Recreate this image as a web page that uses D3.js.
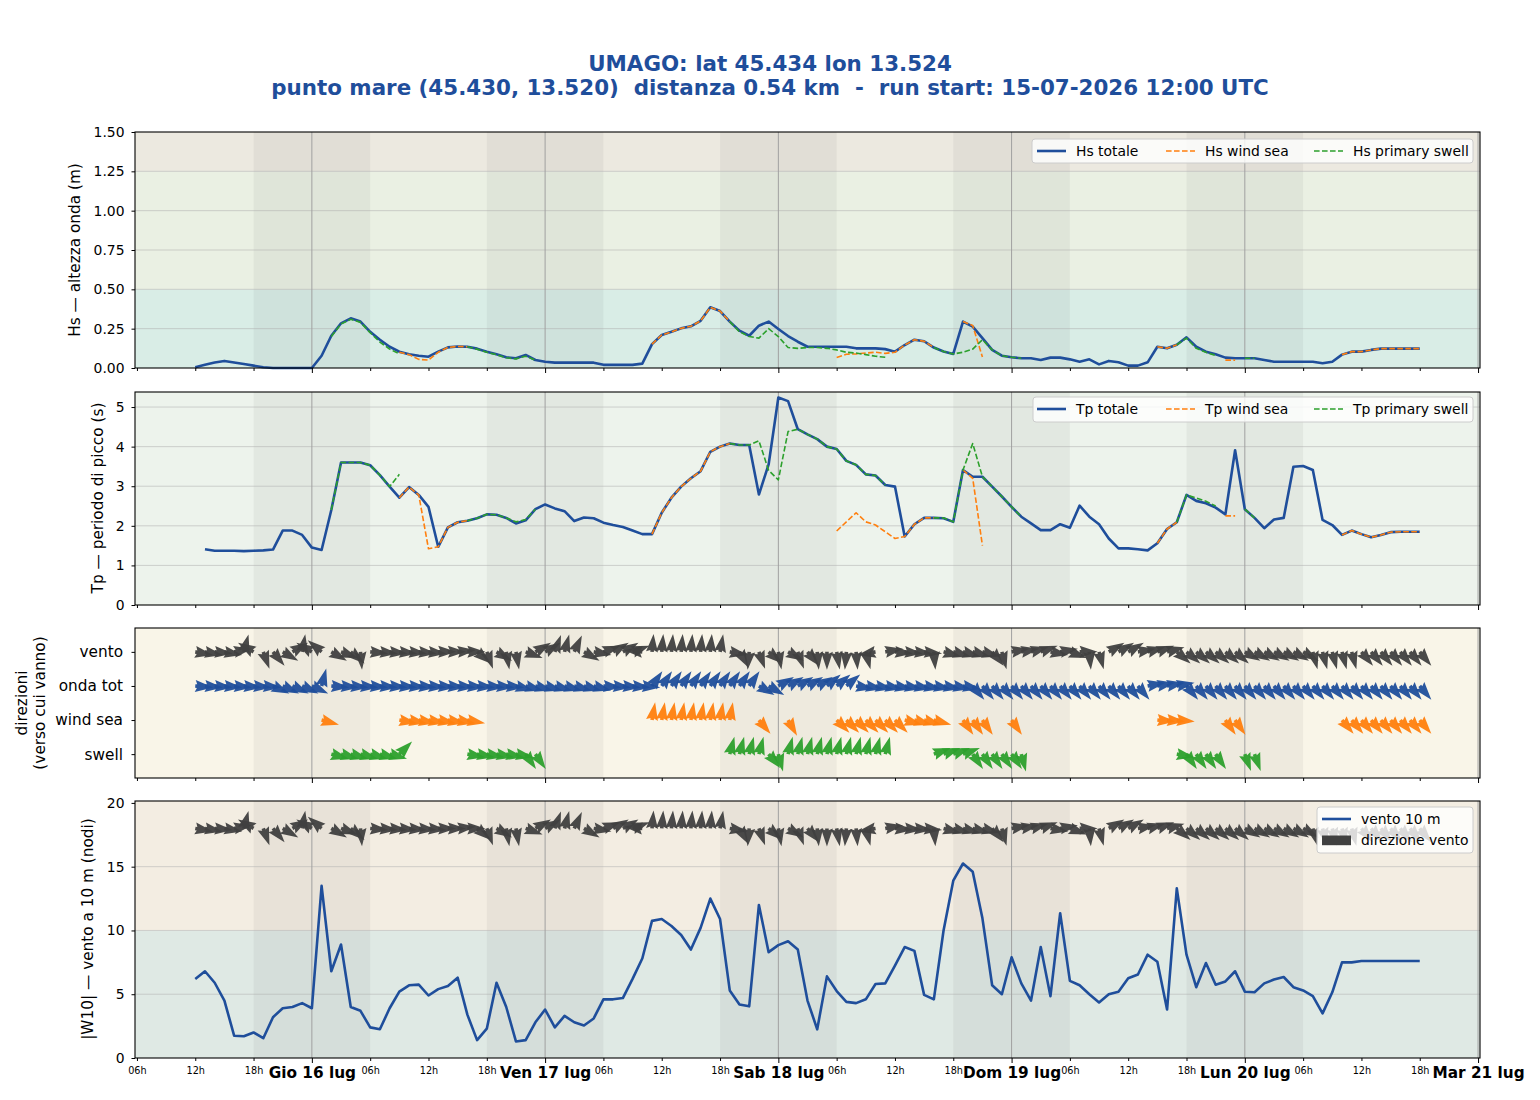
<!DOCTYPE html>
<html>
<head>
<meta charset="utf-8">
<script src="https://cdn.jsdelivr.net/npm/d3@7"></script>
<style>
  body { margin: 0; background: #fff; }
  svg { display: block; font-family: "DejaVu Sans", sans-serif; }
  text { white-space: pre; }
</style>
</head>
<body>
<div id="chart"></div>
<script>
const _ = null;

// hourly steps, 15 lug 12h -> 20 lug 18h
const runStart = Date.UTC(2026, 6, 15, 12);
const nSteps = 127;

const dayLabels = ["Gio 16 lug", "Ven 17 lug", "Sab 18 lug", "Dom 19 lug", "Lun 20 lug", "Mar 21 lug"];
const dirLabels = ["swell", "wind sea", "onda tot", "vento"];

const hsTot = [
  0.005,0.02,0.035,0.045,0.035,0.025,0.015,0.005,0,0,
  0,0,0,0.078,0.205,0.284,0.316,0.295,0.23,0.18,
  0.135,0.104,0.087,0.078,0.072,0.104,0.131,0.137,0.135,0.123,
  0.104,0.087,0.068,0.062,0.083,0.051,0.04,0.034,0.034,0.034,
  0.034,0.034,0.02,0.02,0.02,0.02,0.028,0.152,0.21,0.23,
  0.252,0.265,0.3,0.386,0.362,0.295,0.237,0.205,0.269,0.295,
  0.248,0.203,0.167,0.135,0.135,0.135,0.135,0.135,0.125,0.125,
  0.125,0.12,0.104,0.146,0.18,0.17,0.13,0.105,0.089,0.295,
  0.263,0.19,0.115,0.078,0.068,0.062,0.062,0.051,0.066,0.066,
  0.055,0.04,0.055,0.023,0.045,0.036,0.015,0.015,0.036,0.135,
  0.125,0.148,0.195,0.135,0.104,0.087,0.066,0.062,0.062,0.062,
  0.051,0.04,0.04,0.04,0.04,0.04,0.03,0.04,0.085,0.104,
  0.104,0.115,0.123,0.123,0.123,0.123,0.123];
const hsWind = [
  _,_,_,_,_,_,_,_,_,_,
  _,_,_,0.078,_,_,_,_,_,_,
  _,0.1,0.085,0.055,0.05,0.1,0.131,0.137,0.135,_,
  _,_,_,_,_,_,_,_,_,_,
  _,_,_,_,_,_,_,0.152,0.21,0.23,
  0.252,0.265,0.3,0.386,0.362,0.295,_,_,0.269,_,
  _,0.203,_,_,_,_,0.066,0.087,0.09,0.095,
  0.1,0.093,0.1,0.146,0.18,0.17,0.13,_,_,0.295,
  0.27,0.07,_,_,0.068,_,_,_,_,_,
  _,_,_,_,_,_,_,_,_,0.135,
  0.125,0.148,_,_,_,_,0.05,0.05,_,_,
  _,_,_,_,_,_,_,_,0.085,0.104,
  0.104,0.115,0.123,0.123,0.123,0.123,0.123];
const hsSwell = [
  _,_,_,_,_,_,_,_,_,_,
  _,_,_,_,0.2,0.28,0.31,0.29,0.225,0.165,
  0.12,0.09,_,_,_,_,_,_,0.135,0.12,
  0.1,0.085,0.065,0.058,0.075,0.05,_,_,_,_,
  _,_,_,_,_,_,_,_,_,_,
  _,_,_,_,_,0.295,0.23,0.2,0.19,0.25,
  0.2,0.13,0.125,0.13,0.13,0.125,0.115,0.1,0.095,0.085,
  0.075,0.068,_,_,_,_,0.13,0.105,0.089,0.1,
  0.12,0.18,0.115,0.078,0.068,0.062,_,_,_,_,
  _,_,_,_,_,_,_,_,_,_,
  _,0.148,0.19,0.125,0.1,0.08,_,_,0.062,0.062,
  _,_,_,_,_,_,_,_,_,_,
  _,_,_,_,_,_,_];

const tpTot = [
  _,1.41,1.37,1.37,1.37,1.36,1.37,1.38,1.40,1.88,
  1.88,1.77,1.45,1.39,2.4,3.6,3.6,3.6,3.53,3.28,
  2.99,2.71,2.98,2.78,2.48,1.47,1.96,2.09,2.13,2.19,
  2.29,2.28,2.2,2.06,2.14,2.42,2.54,2.44,2.37,2.12,
  2.21,2.19,2.08,2.02,1.97,1.88,1.79,1.79,2.33,2.71,
  2.99,3.2,3.38,3.87,4.0,4.08,4.04,4.04,2.79,3.55,
  5.24,5.15,4.44,4.31,4.19,4.0,3.94,3.64,3.54,3.3,
  3.27,3.03,2.99,1.73,2.04,2.2,2.2,2.19,2.1,3.41,
  3.24,3.24,2.99,2.74,2.48,2.23,2.06,1.89,1.89,2.04,
  1.95,2.51,2.23,2.04,1.68,1.43,1.43,1.41,1.38,1.56,
  1.92,2.09,2.78,2.63,2.57,2.46,2.29,3.91,2.42,2.2,
  1.94,2.16,2.2,3.49,3.51,3.41,2.15,2.02,1.77,1.88,
  1.79,1.71,1.77,1.84,1.85,1.85,1.85];
const tpWind = [
  _,_,_,_,_,_,_,_,_,_,
  _,_,_,1.39,_,_,_,_,_,_,
  _,2.71,2.98,2.78,1.42,1.47,1.96,2.09,2.13,_,
  _,_,_,_,_,_,_,_,_,_,
  _,_,_,_,_,_,_,1.79,2.33,2.71,
  2.99,3.2,3.38,3.87,4.0,4.08,_,_,2.79,_,
  _,5.15,_,_,_,_,1.87,2.1,2.33,2.1,
  2.02,1.85,1.68,1.73,2.04,2.2,2.2,_,_,3.41,
  3.2,1.5,_,_,2.48,_,_,_,_,_,
  _,_,_,_,_,_,_,_,_,1.56,
  1.92,2.09,_,_,_,_,2.25,2.25,_,_,
  _,_,_,_,_,_,_,_,1.77,1.88,
  1.79,1.71,1.77,1.84,1.85,1.85,1.85];
const tpSwell = [
  _,_,_,_,_,_,_,_,_,_,
  _,_,_,_,2.4,3.6,3.6,3.6,3.53,3.28,
  2.99,3.3,_,_,_,_,_,_,2.13,2.19,
  2.29,2.28,2.2,2.1,2.16,2.42,_,_,_,_,
  _,_,_,_,_,_,_,_,_,_,
  _,_,_,_,_,4.08,4.04,4.04,4.15,3.4,
  3.16,4.38,4.44,4.31,4.19,4.0,3.94,3.64,3.54,3.3,
  3.27,3.03,_,_,_,_,2.2,2.2,2.1,3.41,
  4.08,3.24,2.99,2.74,2.48,2.23,_,_,_,_,
  _,_,_,_,_,_,_,_,_,_,
  _,2.09,2.78,2.7,2.62,2.5,_,_,2.42,2.2,
  _,_,_,_,_,_,_,_,_,_,
  _,_,_,_,_,_,_];

// wind speed at 10 m, knots
const w10 = [
  6.2,6.8,5.9,4.5,1.75,1.7,2.0,1.55,3.2,3.9,
  4.0,4.3,3.9,13.5,6.8,8.9,4.0,3.7,2.4,2.25,
  3.9,5.2,5.7,5.75,4.9,5.4,5.65,6.3,3.4,1.4,
  2.3,5.9,4.0,1.3,1.4,2.8,3.8,2.4,3.3,2.8,
  2.55,3.1,4.6,4.6,4.7,6.2,7.8,10.75,10.9,10.35,
  9.65,8.5,10.2,12.5,10.9,5.3,4.2,4.05,12.0,8.3,
  8.85,9.15,8.5,4.5,2.25,6.4,5.25,4.4,4.3,4.6,
  5.8,5.85,7.25,8.7,8.4,4.95,4.6,10.0,13.9,15.25,
  14.6,10.95,5.7,5.0,7.9,5.85,4.5,8.7,4.85,11.35,
  6.05,5.7,5.0,4.35,5.0,5.2,6.25,6.55,8.1,7.55,
  3.8,13.3,8.1,5.55,7.45,5.75,6.0,6.8,5.2,5.15,
  5.85,6.15,6.35,5.55,5.3,4.85,3.5,5.15,7.5,7.5,
  7.6,7.6,7.6,7.6,7.6,7.6,7.6];

// directions "verso cui vanno", degrees clockwise from north
const dirVento = [
  100,100,95,100,80,15,300,160,140,120,
  60,10,300,310,120,110,130,175,95,95,
  95,95,95,95,95,90,90,85,90,130,
  160,120,170,170,110,60,60,20,15,25,
  120,100,70,60,60,70,275,5,5,5,
  5,5,5,5,10,100,150,185,160,130,
  170,120,160,140,175,180,170,185,175,165,
  260,80,95,95,95,95,175,105,105,105,
  105,105,140,165,80,80,75,70,100,80,
  110,90,175,165,60,60,60,80,75,70,
  75,130,130,130,130,130,130,130,120,120,
  120,120,120,120,120,165,165,165,165,165,
  140,140,140,140,140,140,140];
const dirOnda = [
  95,95,95,95,95,95,95,95,115,115,
  115,115,115,15,95,95,95,95,95,95,
  95,95,95,95,95,95,95,95,95,95,
  95,95,95,105,105,105,105,105,105,105,
  105,105,95,95,95,95,95,35,35,35,
  35,35,35,35,35,35,35,35,120,120,
  60,60,60,60,60,50,50,50,100,100,
  100,100,100,100,100,100,100,100,100,100,
  140,140,140,140,140,140,140,140,140,140,
  140,140,140,140,140,140,140,140,80,80,
  80,80,140,140,140,140,140,140,140,140,
  140,140,140,140,140,140,140,140,140,140,
  140,140,140,140,140,140,140];
const dirWindSea = [
  _,_,_,_,_,_,_,_,_,_,
  _,_,_,105,_,_,_,_,_,_,
  _,100,100,100,100,100,100,100,100,_,
  _,_,_,_,_,_,_,_,_,_,
  _,_,_,_,_,_,_,10,10,10,
  10,10,10,10,10,10,_,_,140,_,
  _,150,_,_,_,_,135,135,135,135,
  135,135,135,105,105,105,105,_,_,145,
  145,145,_,_,145,_,_,_,_,_,
  _,_,_,_,_,_,_,_,_,95,
  95,95,_,_,_,_,145,145,_,_,
  _,_,_,_,_,_,_,_,140,140,
  140,140,140,140,140,140,140];
const dirSwell = [
  _,_,_,_,_,_,_,_,_,_,
  _,_,_,_,105,105,105,105,105,105,
  105,45,_,_,_,_,_,_,100,100,
  100,100,100,100,145,145,_,_,_,_,
  _,_,_,_,_,_,_,_,_,_,
  _,_,_,_,_,15,15,15,15,140,
  165,15,15,15,15,15,15,15,15,15,
  15,15,_,_,_,_,70,70,70,70,
  145,145,145,145,145,165,_,_,_,_,
  _,_,_,_,_,_,_,_,_,_,
  _,100,145,145,145,145,_,_,160,160,
  _,_,_,_,_,_,_,_,_,_,
  _,_,_,_,_,_,_];

const BLUE = "#1f4e9b", ORANGE = "#ff7f0e", GREEN = "#2ca02c", DARK = "#404040";
const FONT = "DejaVu Sans";

const times = d3.range(nSteps).map(i => new Date(runStart + i * 3600e3));

const W = 1540, H = 1100;
const left = 135, right = 1480;

const x = d3.scaleUtc()
  .domain([new Date(Date.UTC(2026, 6, 15, 5, 48)), new Date(Date.UTC(2026, 6, 21, 0, 12))])
  .range([left, right]);

const yHs = d3.scaleLinear().domain([0, 1.5]).range([368, 132]);
const yTp = d3.scaleLinear().domain([0, 5.38]).range([605, 392]);
const yDir = d3.scaleLinear().domain([-0.7, 3.7]).range([778, 628]);
const yW = d3.scaleLinear().domain([0, 20.15]).range([1058, 801]);

const svg = d3.select("#chart").append("svg")
  .attr("width", W).attr("height", H)
  .attr("font-family", FONT);

// title
svg.append("text").attr("x", 770).attr("y", 71).attr("text-anchor", "middle")
  .attr("font-size", 21.4).attr("font-weight", "bold").attr("fill", BLUE)
  .text("UMAGO: lat 45.434 lon 13.524");
svg.append("text").attr("x", 770).attr("y", 95).attr("text-anchor", "middle")
  .attr("font-size", 21.4).attr("font-weight", "bold").attr("fill", BLUE)
  .text("punto mare (45.430, 13.520)  distanza 0.54 km  -  run start: 15-07-2026 12:00 UTC");

const sixHours = d3.utcHour.every(6).range(x.domain()[0], x.domain()[1]);
const midnights = sixHours.filter(d => d.getUTCHours() === 0);
const minorTicks = sixHours.filter(d => d.getUTCHours() !== 0);
const nights = midnights.slice(0, 5).map(d => [d3.utcHour.offset(d, -6), d3.utcHour.offset(d, 6)]);

function panel(y, bands, grid) {
  const [bottom, top] = y.range();
  const g = svg.append("g");
  bands.forEach(b => {
    g.append("rect").attr("x", left).attr("width", right - left)
      .attr("y", y(b[1])).attr("height", y(b[0]) - y(b[1])).attr("fill", b[2]);
  });
  g.selectAll(".night").data(nights).enter().append("rect")
    .attr("x", d => x(d[0])).attr("width", d => x(d[1]) - x(d[0]))
    .attr("y", top).attr("height", bottom - top)
    .attr("fill", "#000").attr("fill-opacity", 0.045);
  g.selectAll(".hgrid").data(grid).enter().append("line")
    .attr("x1", left).attr("x2", right)
    .attr("y1", d => y(d)).attr("y2", d => y(d))
    .attr("stroke", "#b0b0b0").attr("stroke-opacity", 0.55).attr("stroke-width", 1);
  g.selectAll(".vgrid").data(midnights).enter().append("line")
    .attr("x1", d => x(d)).attr("x2", d => x(d))
    .attr("y1", top).attr("y2", bottom)
    .attr("stroke", "#a0a0a0").attr("stroke-width", 1);
  return g;
}

function frame(y, showLabels) {
  const [bottom, top] = y.range();
  svg.append("rect").attr("x", left).attr("y", top)
    .attr("width", right - left).attr("height", bottom - top)
    .attr("fill", "none").attr("stroke", "#000").attr("stroke-width", 1.1);
  const gMin = svg.append("g").attr("transform", `translate(0,${bottom})`)
    .call(d3.axisBottom(x).tickValues(minorTicks).tickSize(3).tickPadding(6)
      .tickFormat(showLabels ? d3.utcFormat("%Hh") : () => ""));
  gMin.select(".domain").remove();
  gMin.attr("font-family", FONT).attr("font-size", 9.7);
  const gMaj = svg.append("g").attr("transform", `translate(0,${bottom})`)
    .call(d3.axisBottom(x).tickValues(midnights).tickSize(5).tickPadding(4.1)
      .tickFormat((d, i) => showLabels ? dayLabels[i] : ""));
  gMaj.select(".domain").remove();
  gMaj.attr("font-family", FONT).attr("font-size", 15.3).attr("font-weight", "bold");
}

function yAxis(y, values, fmt, size, pad) {
  const g = svg.append("g").attr("transform", `translate(${left},0)`)
    .call(d3.axisLeft(y).tickValues(values).tickFormat(fmt).tickSize(3.5).tickPadding(pad));
  g.select(".domain").remove();
  g.attr("font-family", FONT).attr("font-size", size);
}

function yLabel(lines, xs, yc) {
  lines.forEach((t, k) => {
    svg.append("text").attr("transform", `translate(${xs[k]},${yc}) rotate(-90)`)
      .attr("text-anchor", "middle").attr("dominant-baseline", "central")
      .attr("font-size", 15.3).text(t);
  });
}

function drawLine(y, vals, color, width, dash) {
  const line = d3.line()
    .defined(d => d[1] != null)
    .x(d => x(d[0])).y(d => y(d[1]));
  svg.append("path").datum(times.map((t, i) => [t, vals[i]]))
    .attr("d", line).attr("fill", "none")
    .attr("stroke", color).attr("stroke-width", width)
    .attr("stroke-linejoin", "round")
    .attr("stroke-dasharray", dash || null);
}

// quiver-like arrow pointing +x, tail at origin
const arrowPath = "M0,-1.8L1.8,-1.8L0,-6L18,0L0,6L1.8,1.8L0,1.8Z";
function drawArrows(yPos, dirs, color) {
  const g = svg.append("g");
  g.selectAll("path").data(times.map((t, i) => [t, dirs[i]]).filter(d => d[1] != null))
    .enter().append("path")
    .attr("d", arrowPath)
    .attr("transform", d => `translate(${x(d[0])},${yPos}) rotate(${d[1] - 90})`)
    .attr("fill", color).attr("fill-opacity", 0.95);
}

function legendBox(x0, y0, w, h) {
  svg.append("rect").attr("x", x0).attr("y", y0).attr("width", w).attr("height", h)
    .attr("rx", 3).attr("fill", "#fff").attr("fill-opacity", 0.8)
    .attr("stroke", "#cccccc").attr("stroke-width", 1);
}
function legendLine(x0, yc, color, width, dash, label) {
  svg.append("line").attr("x1", x0).attr("x2", x0 + 29).attr("y1", yc).attr("y2", yc)
    .attr("stroke", color).attr("stroke-width", width).attr("stroke-dasharray", dash || null);
  svg.append("text").attr("x", x0 + 39).attr("y", yc).attr("dominant-baseline", "central")
    .attr("font-size", 13.9).text(label);
}

const DASH = "5.6,2.4";

// --- panel 1: Hs
panel(yHs, [[0, 0.5, "#d9ede6"], [0.5, 1.25, "#eaf0e3"], [1.25, 1.5, "#ece9e0"]],
  [0.25, 0.5, 0.75, 1.0, 1.25]);
drawLine(yHs, hsTot, BLUE, 2.6);
drawLine(yHs, hsWind, ORANGE, 1.6, DASH);
drawLine(yHs, hsSwell, GREEN, 1.6, DASH);
frame(yHs, false);
yAxis(yHs, [0, 0.25, 0.5, 0.75, 1.0, 1.25, 1.5], d3.format(".2f"), 13.9, 7);
yLabel(["Hs \u2014 altezza onda (m)"], [75], 250);
legendBox(1032, 139, 441, 24);
legendLine(1037, 151, BLUE, 2.6, null, "Hs totale");
legendLine(1166, 151, ORANGE, 1.6, DASH, "Hs wind sea");
legendLine(1314, 151, GREEN, 1.6, DASH, "Hs primary swell");

// --- panel 2: Tp
panel(yTp, [[0, 5.38, "#edf3ec"]], [1, 2, 3, 4, 5]);
drawLine(yTp, tpTot, BLUE, 2.6);
drawLine(yTp, tpWind, ORANGE, 1.6, DASH);
drawLine(yTp, tpSwell, GREEN, 1.6, DASH);
frame(yTp, false);
yAxis(yTp, [0, 1, 2, 3, 4, 5], d3.format("d"), 13.9, 7);
yLabel(["Tp \u2014 periodo di picco (s)"], [98], 498);
legendBox(1033, 397, 440, 25);
legendLine(1037, 409, BLUE, 2.6, null, "Tp totale");
legendLine(1166, 409, ORANGE, 1.6, DASH, "Tp wind sea");
legendLine(1314, 409, GREEN, 1.6, DASH, "Tp primary swell");

// --- panel 3: directions
panel(yDir, [[-0.7, 3.7, "#f9f5e8"]], []);
drawArrows(yDir(3), dirVento, DARK);
drawArrows(yDir(2), dirOnda, BLUE);
drawArrows(yDir(1), dirWindSea, ORANGE);
drawArrows(yDir(0), dirSwell, GREEN);
frame(yDir, false);
yAxis(yDir, [0, 1, 2, 3], d => dirLabels[d], 15.3, 8.5);
yLabel(["direzioni", "(verso cui vanno)"], [22, 40], 703);

// --- panel 4: wind
panel(yW, [[0, 10, "#dfe9e4"], [10, 20.15, "#f3ede2"]], [5, 10, 15]);
drawLine(yW, w10, BLUE, 2.6);
drawArrows(yW(18), dirVento, DARK);
frame(yW, true);
yAxis(yW, [0, 5, 10, 15, 20], d3.format("d"), 13.9, 7);
yLabel(["|W10| \u2014 vento a 10 m (nodi)"], [88], 929);
legendBox(1317, 807, 156, 46);
legendLine(1322, 819, BLUE, 2.6, null, "vento 10 m");
svg.append("rect").attr("x", 1322).attr("y", 835.5).attr("width", 29).attr("height", 9.7).attr("fill", DARK);
svg.append("text").attr("x", 1361).attr("y", 840).attr("dominant-baseline", "central")
  .attr("font-size", 13.9).text("direzione vento");
</script>
</body>
</html>
